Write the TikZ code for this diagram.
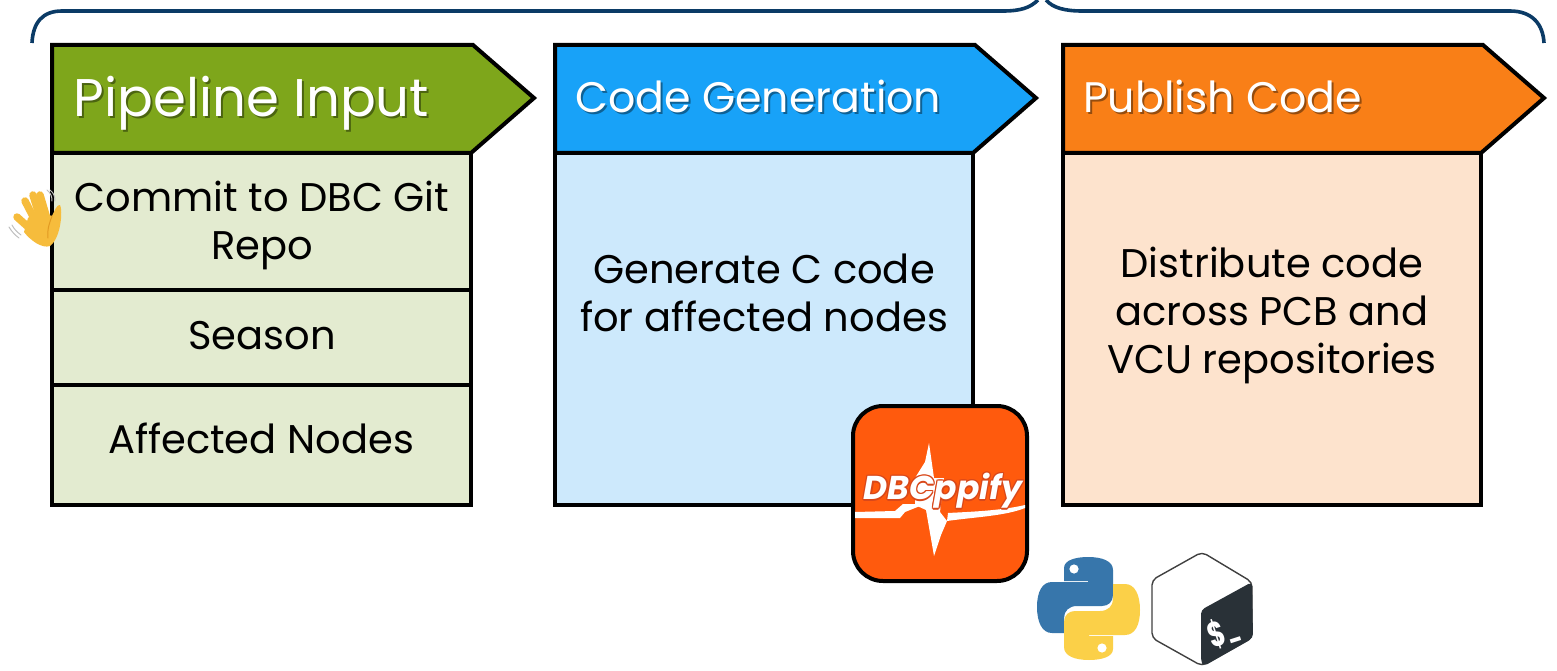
\documentclass[tikz,border=0pt]{standalone}
\usepackage{fontspec}
\setmainfont{Poppins}
\usetikzlibrary{calc}
\definecolor{navy}{HTML}{0B3B66}
\definecolor{greenH}{HTML}{7EA61B}
\definecolor{greenB}{HTML}{E3EBD0}
\definecolor{blueH}{HTML}{18A2F8}
\definecolor{blueB}{HTML}{CDE9FC}
\definecolor{orangeH}{HTML}{F97F17}
\definecolor{orangeB}{HTML}{FDE3CD}
\definecolor{badge}{HTML}{FF5A0D}
\definecolor{badged}{HTML}{D9481A}
\definecolor{pyblue}{HTML}{3776AB}
\definecolor{pyyellow}{HTML}{FBD048}
\definecolor{bashdark}{HTML}{293137}
\definecolor{handy}{HTML}{F6BC3C}
\definecolor{handd}{HTML}{E29A22}
\tikzset{
  x=1pt,y=-1pt,
  outline/.style={draw=black,line width=4pt,line join=miter,miter limit=10,outer sep=0pt},
  cell/.style={outline,rectangle,minimum width=#1,inner sep=0pt,anchor=north west},
  celltext/.style={anchor=center,align=center,inner sep=0pt,font=\fontsize{40}{48}\selectfont},
  headtext/.style={anchor=west,inner sep=0pt,text=white},
  shadowtext/.style={anchor=west,inner sep=0pt},
  bracket/.style={draw=navy,line width=3.6pt,line cap=butt},
  logotext/.style={inner sep=0pt,font=\fontsize{33}{33}\bfseries\itshape\selectfont},
}
\begin{document}
\begin{tikzpicture}
\useasboundingbox (0,0) rectangle (1557,671);
% brackets
\coordinate (b1a) at (32,43);
\coordinate (b1b) at (1038,0);
\coordinate (b2a) at (1046,0);
\coordinate (b2b) at (1544,43);
\draw[bracket] (b1a) .. controls (33,22) and (43,11) .. (62,11) -- (1003,11) .. controls (1020,11) and (1030,8) .. (b1b);
\draw[bracket] (b2a) .. controls (1053,8) and (1065,11) .. (1082,11) -- (1510,11) .. controls (1532,11) and (1543,24) .. (b2b);
% bodies, column 1
\node[cell=419pt,fill=greenB,minimum height=137pt] (commit) at (52,153) {};
\node[cell=419pt,fill=greenB,minimum height=95pt] (season) at (52,290) {};
\node[cell=419pt,fill=greenB,minimum height=120pt] (nodes) at (52,385) {};
\node[celltext] (committext) at (262,225) {Commit to DBC Git\\Repo};
\node[celltext] (seasontext) at (262,335.5) {Season};
\node[celltext] (nodestext) at (261,438) {Affected Nodes};
% column 2, 3
\node[cell=418pt,fill=blueB,minimum height=352pt] (gen) at (555,153) {};
\node[celltext] (gentext) at (764,293) {Generate C code\\for affected nodes};
\node[cell=418pt,fill=orangeB,minimum height=352pt] (pub) at (1063,153) {};
\node[celltext] (pubtext) at (1272,315) {Distribute code\\across PCB and\\VCU repositories};
% headers
\draw[outline,fill=greenH] (52,45) -- (473,45) -- (534,98) -- (471,153) -- (52,153) -- cycle;
\draw[outline,fill=blueH] (555,45) -- (975,45) -- (1036,98) -- (973,153) -- (555,153) -- cycle;
\draw[outline,fill=orangeH] (1063,45) -- (1483,45) -- (1544,98) -- (1481,153) -- (1063,153) -- cycle;
\node[shadowtext,text=greenH!60!black,font=\fontsize{53}{53}\selectfont] at (75.5,105) {Pipeline Input};
\node[headtext,font=\fontsize{53}{53}\selectfont] (h1) at (73.5,103) {Pipeline Input};
\node[shadowtext,text=blueH!60!black,font=\fontsize{42.7}{43}\selectfont] at (577,98) {Code Generation};
\node[headtext,font=\fontsize{42.7}{43}\selectfont] (h2) at (575,96) {Code Generation};
\node[shadowtext,text=orangeH!60!black,font=\fontsize{42.7}{43}\selectfont] at (1085,98) {Publish Code};
\node[headtext,font=\fontsize{42.7}{43}\selectfont] (h3) at (1083,96) {Publish Code};
% hand
\begin{scope}[line cap=round]
\draw[gray!50,line width=1pt] (47,190) .. controls (51,193) and (52,197) .. (52,201);
\draw[gray!50,line width=1pt] (50,190) .. controls (54,193) and (55,197) .. (55,201);
\draw[gray!50,line width=1pt] (9,227) .. controls (12,232) and (15,235) .. (19,238);
\draw[gray!50,line width=1pt] (12,225) .. controls (14,229) and (17,232) .. (21,235);
\draw[handy,line width=7.5pt] (36,234) -- (17,217);
\draw[handy,line width=7.5pt] (38,226) -- (25,201);
\draw[handy,line width=7.5pt] (42,224) -- (33,195);
\draw[handy,line width=7.5pt] (48,222) -- (40,195);
\fill[handy] (28,218) .. controls (36,210) and (46,214) .. (52,216) .. controls (54,212) and (57,204) .. (60,205) .. controls (63,210) and (61,238) .. (50,246) .. controls (42,249) and (30,240) .. (24,232) -- cycle;
\draw[handd,line width=1pt] (52,216) .. controls (50,222) and (47,228) .. (48,238);
\end{scope}
% DBCppify badge
\node[outline,rounded corners=30pt,fill=badge,minimum width=174pt,minimum height=175pt,anchor=north west,inner sep=0pt] (badge) at (853,406) {};
\fill[white] (929,443) -- (934,478) -- (944,478) -- (940,512) -- (947,521) .. controls (975,517) and (1005,516) .. (1025,508) -- (1025,505) .. controls (1000,511) and (965,512) .. (948,513) -- (947,521) -- (941,535) -- (934,556) -- (926,510) -- (915,505) -- (915,478) -- (925,462) -- cycle;
\fill[white] (855,512) -- (895,511) -- (903,504) -- (925,504) -- (905,512) -- (900,518) -- (855,518) -- cycle;
\foreach \dx/\dy in {-1.2/0,1.2/0,0/-1.2,0/1.2,-1/-1,1/1,-1/1,1/-1}
  \node[logotext,text=badged] at (943+\dx,491+\dy) {DBCppify};
\node[logotext,text=white] (logo) at (943,491) {DBCppify};
% python logo
\fill[pyblue] (1064,581) -- (1064,568) .. controls (1064,560) and (1076,557) .. (1088,557) .. controls (1102,557) and (1113,561) .. (1113,570) -- (1113,595) .. controls (1113,602) and (1108,606) .. (1102,606) -- (1077,606) .. controls (1069,606) and (1064,611) .. (1064,618) -- (1064,633) -- (1052,633) .. controls (1042,633) and (1037,622) .. (1037,607) .. controls (1037,592) and (1042,582) .. (1052,582) -- (1088,582) -- (1088,581) -- cycle;
\fill[white] (1074,569) circle (4.6pt);
\fill[pyyellow] (1113,636) -- (1113,649) .. controls (1113,657) and (1101,660) .. (1089,660) .. controls (1075,660) and (1064,656) .. (1064,647) -- (1064,622) .. controls (1064,615) and (1069,611) .. (1075,611) -- (1100,611) .. controls (1108,611) and (1113,606) .. (1113,599) -- (1113,584) -- (1125,584) .. controls (1135,584) and (1140,595) .. (1140,610) .. controls (1140,625) and (1135,635) .. (1125,635) -- (1089,635) -- (1089,636) -- cycle;
\fill[white] (1102,648) circle (4.6pt);
% bash logo
\draw[draw=black!75,line width=1.4pt,fill=white,rounded corners=5pt] (1202,552) -- (1252,582) -- (1252,638) -- (1202,666) -- (1152,638) -- (1152,580) -- cycle;
\fill[bashdark,rounded corners=4pt] (1201,610) -- (1252,582) -- (1253,638) -- (1204,666) -- (1201,662) -- cycle;
\node[inner sep=0pt,text=white,rotate=18,xscale=0.72,font=\fontsize{35}{35}\selectfont\bfseries] (prompt) at (1224,632) {\$\kern 2pt\raisebox{4pt}{\fontsize{24}{24}\selectfont\_}};
\end{tikzpicture}
\end{document}
